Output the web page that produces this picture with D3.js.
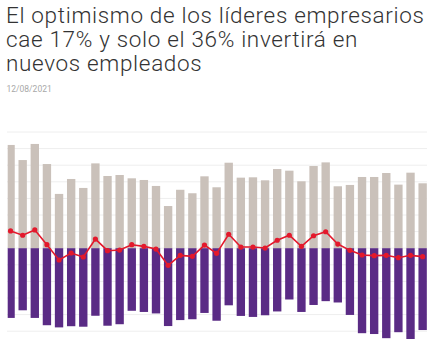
<!DOCTYPE html>
<html><head><meta charset="utf-8">
<script src="https://cdn.jsdelivr.net/npm/d3@7/dist/d3.min.js"></script>
<style>
html,body{margin:0;padding:0;background:#fff;}
svg{display:block;}
</style></head>
<body>
<svg id="c" width="436" height="343"></svg>
<script>
const titleLines = ["El optimismo de los líderes empresarios", "cae 17% y solo el 36% invertirá en", "nuevos empleados"];
const dateLabel = "12/08/2021";
const periods = d3.range(1, 36).map(i => "P" + i);
const optimistas = [62.2,53.1,62.8,50.7,32.7,41.7,36.3,51.1,43.5,44.1,42.1,41.1,37.5,25.4,35.2,33.1,43.3,36.7,51.5,42.5,42.7,40.9,47.7,46.7,40.3,49.5,51.7,37.3,38.1,42.9,42.9,45.3,38.3,45.5,39.1];
const pesimistas = [42.0,37.4,42.0,46.4,47.7,47.0,47.3,40.7,46.7,45.8,37.7,38.4,39.3,46.9,43.3,42.8,39.0,43.7,34.4,40.8,41.4,40.4,38.1,30.9,38.4,34.2,31.9,32.7,40.2,51.2,51.7,54.2,50.6,54.7,49.3];
const saldo = [10.4,7.8,11.0,2.1,-7.1,-2.9,-5.3,5.5,-1.5,-1.1,2.1,1.1,-0.5,-10.3,-4.3,-4.9,1.9,-3.1,8.4,0.7,0.7,0.1,4.8,7.8,1.1,7.5,9.9,2.5,-1.3,-4.1,-4.5,-4.3,-5.7,-4.3,-5.1];
const gridTicks = d3.range(-50, 71, 10);

const svg = d3.select("#c");

// Title
const fs = 22.5;
const tl = svg.append("g").selectAll("text").data(titleLines).join("text")
  .attr("x", 6).attr("y", (d, i) => 22.7 + i * 24)
  .style("font-family", "Roboto, 'Open Sans', sans-serif")
  .style("font-weight", 300)
  .style("font-size", fs + "px")
  .attr("fill", "#333")
  .text(d => d);
const n0 = tl.nodes()[0];
const w0 = n0.getComputedTextLength();
const ls = (418 - w0) / (titleLines[0].length - 1);
tl.style("letter-spacing", ls + "px");

svg.append("text").attr("x", 6.5).attr("y", 92)
  .style("font-family", "Roboto, sans-serif").style("font-size", "8.5px")
  .attr("fill", "#a8a8a8").text(dateLabel);

const x = d3.scaleBand().domain(periods).range([4.5, 428.7]).paddingInner(0.31).paddingOuter(0.155);
const y = d3.scaleLinear().domain([-50, 70]).range([331.2, 132]);

svg.append("defs").append("clipPath").attr("id", "clip")
  .append("rect").attr("x", 7.7).attr("y", 0).attr("width", 430).attr("height", 343);

// gridlines
svg.append("g").selectAll("line").data(gridTicks).join("line")
  .attr("x1", 7).attr("x2", 427)
  .attr("y1", d => y(d)).attr("y2", d => y(d))
  .attr("stroke", "#eeeeee").attr("stroke-width", 1);

const bars = svg.append("g").attr("clip-path", "url(#clip)");
bars.selectAll("rect.pos").data(optimistas).join("rect").attr("class", "pos")
  .attr("x", (d, i) => x(periods[i])).attr("width", x.bandwidth())
  .attr("y", d => y(d)).attr("height", d => y(0) - y(d))
  .attr("fill", "#cac1ba");
bars.selectAll("rect.neg").data(pesimistas).join("rect").attr("class", "neg")
  .attr("x", (d, i) => x(periods[i])).attr("width", x.bandwidth())
  .attr("y", y(0)).attr("height", d => y(-d) - y(0))
  .attr("fill", "#5a2b85");

const cx = i => x(periods[i]) + x.bandwidth() / 2;
const line = d3.line().x((d, i) => cx(i)).y(d => y(d)).curve(d3.curveLinear);
svg.append("path").datum(saldo).attr("d", line)
  .attr("fill", "none").attr("stroke", "#e3192c").attr("stroke-width", 1.6);
svg.append("g").selectAll("circle").data(saldo).join("circle")
  .attr("cx", (d, i) => cx(i)).attr("cy", d => y(d)).attr("r", 2.6)
  .attr("fill", "#e3192c");
</script>
</body></html>
